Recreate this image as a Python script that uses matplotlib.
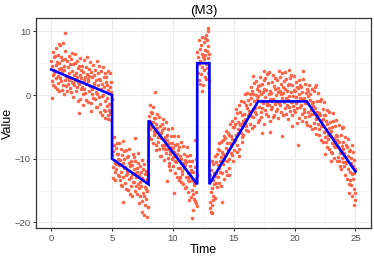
import numpy as np
import matplotlib
matplotlib.use("Agg")
import matplotlib.pyplot as plt
from matplotlib.ticker import MultipleLocator

plt.rcParams['font.family'] = ['Liberation Sans', 'DejaVu Sans']

# ---- data ----
# cloud of observations: one list of values per 0.25-wide time bin (bin centres 0.125 ... 24.875)
value_cols = [
    [5.3, 2.2, 4.6, 6.8, 3.1, 1.5, 4.0, 5.9],
    [3.5, 6.1, 1.3, 4.7, 7.4, 2.6, 5.2, 0.9],
    [6.3, 3.0, 1.9, 5.0, 0.6, 4.1, 2.7, 7.9],
    [2.2, 4.3, 6.0, 0.8, 3.7, 5.5, 1.6, 8.1],
    [3.9, 0.2, 4.5, 2.3, 5.6, 6.9, 1.4, 3.0],
    [0.7, 5.3, 2.8, 1.8, 4.4, 2.4, 6.2, 3.5],
    [4.8, 2.6, 1.1, 5.7, 0.4, 3.8, 2.0, 6.6],
    [1.9, -0.3, 4.9, 3.2, 1.6, 6.4, 2.4, 5.1],
    [3.4, 0.6, 2.8, 5.3, 1.2, -1.0, 4.2, 2.1],
    [1.8, 4.5, -0.7, 3.1, 5.8, 0.9, 2.6, 3.9],
    [4.6, 1.3, 0.1, 3.6, -1.5, 2.4, 5.5, 1.0],
    [0.3, 2.9, 4.4, -0.8, 1.7, 3.3, 5.9, 2.2],
    [2.5, -1.1, 3.0, 0.6, 4.1, 5.2, 1.4, -2.5],
    [-1.3, 3.6, 1.0, 0.2, 2.8, 4.7, -0.4, 1.9],
    [3.2, 1.5, -0.6, 4.0, -1.9, 2.3, 0.4, 5.4],
    [0.1, -1.8, 3.4, 1.6, -0.3, 4.6, 2.5, -2.7],
    [2.4, -1.4, 1.0, 3.8, -0.2, -3.1, 1.8, 4.4],
    [0.0, 2.9, -2.3, 1.3, 3.5, -0.9, -3.6, 2.0],
    [2.9, -0.4, -1.7, 1.5, -3.2, 0.8, 3.8, -2.4],
    [-1.4, 1.2, 3.4, -2.6, 0.5, 2.1, -3.9, -0.7],
    [-9.4, -13.0, -8.8, -11.3, -7.9, -6.6, -10.7, -12.1],
    [-13.4, -8.3, -10.9, -11.6, -9.2, -7.5, -12.6, -10.1],
    [-9.3, -11.0, -12.7, -7.6, -13.3, -10.2, -8.5, -14.1],
    [-12.0, -14.2, -9.4, -10.6, -12.9, -7.2, -11.5, -8.8],
    [-10.1, -13.8, -11.3, -8.6, -12.5, -14.7, -9.7, -11.9],
    [-12.4, -9.6, -14.9, -10.7, -8.4, -13.1, -11.2, -15.6],
    [-10.3, -12.9, -14.3, -11.0, -15.8, -12.4, -9.2, -13.6],
    [-13.7, -11.6, -9.8, -15.1, -12.2, -10.4, -14.2, -12.8],
    [-12.0, -15.5, -11.4, -13.9, -10.6, -9.1, -14.6, -12.5],
    [-15.9, -11.1, -13.6, -14.3, -12.0, -10.2, -16.6, -13.0],
    [-11.6, -13.3, -15.3, -10.8, -15.9, -12.4, -14.5, -17.2],
    [-14.7, -16.3, -11.9, -13.2, -15.0, -10.3, -12.6, -17.6],
    [-3.3, -6.6, -4.1, -1.5, -5.3, -2.6, -4.8, -6.9],
    [-5.0, -2.8, -7.5, -4.3, -1.9, -6.2, -3.6, -5.7],
    [-3.6, -6.0, -7.8, -4.5, -8.7, -5.2, -2.9, -6.6],
    [-7.4, -5.8, -3.5, -8.4, -6.3, -4.9, -9.5, -6.8],
    [-6.0, -9.6, -5.5, -7.9, -4.6, -3.7, -8.3, -7.1],
    [-10.2, -5.2, -7.8, -8.4, -6.6, -4.3, -9.1, -7.0],
    [-6.2, -8.4, -9.9, -5.3, -10.6, -7.5, -11.2, -8.8],
    [-9.2, -11.7, -6.4, -8.1, -10.0, -5.1, -7.6, -9.8],
    [-8.3, -11.1, -9.0, -6.5, -10.4, -12.3, -7.8, -9.6],
    [-10.5, -7.7, -12.9, -9.2, -6.5, -11.4, -8.6, -13.4],
    [-8.2, -11.5, -12.8, -9.5, -13.6, -10.1, -7.3, -11.9],
    [-12.4, -10.7, -8.0, -13.9, -11.5, -9.3, -14.6, -10.2],
    [-11.0, -14.5, -10.5, -12.9, -9.6, -8.1, -13.4, -12.2],
    [-15.2, -10.3, -12.8, -13.5, -11.1, -9.4, -16.0, -12.0],
    [-11.7, -13.4, -14.9, -10.4, -15.6, -12.1, -16.3, -13.8],
    [-14.1, -16.7, -11.3, -13.0, -15.2, -10.0, -12.5, -17.4],
    [6.8, 3.5, 6.0, 8.6, 4.8, 2.4, 7.3, 5.4],
    [5.2, 7.9, 3.3, 6.5, 9.1, 4.4, 5.9, 1.6],
    [8.4, 5.6, 3.9, 7.1, 2.9, 6.3, 9.4, 4.8],
    [4.3, 6.9, 8.7, 3.4, 5.8, 7.7, 2.2, 6.4],
    [-13.3, -16.8, -12.6, -15.2, -11.8, -10.4, -14.6, -17.3],
    [-15.8, -10.9, -13.4, -14.0, -12.2, -9.6, -16.1, -12.7],
    [-10.5, -12.3, -13.8, -9.2, -14.5, -11.0, -8.4, -12.9],
    [-11.4, -13.8, -8.6, -10.3, -12.1, -7.3, -9.7, -14.2],
    [-8.9, -12.2, -9.3, -7.1, -10.9, -13.1, -6.4, -10.2],
    [-9.5, -6.8, -11.9, -8.3, -5.6, -10.4, -7.6, -12.6],
    [-5.9, -8.7, -10.0, -6.2, -11.4, -7.5, -4.6, -9.1],
    [-8.0, -6.4, -4.1, -9.4, -6.9, -5.0, -10.3, -7.3],
    [-5.0, -8.6, -4.5, -7.0, -3.6, -2.2, -6.3, -9.0],
    [-7.8, -2.8, -5.4, -6.0, -4.2, -1.6, -8.5, -4.7],
    [-2.7, -4.5, -5.9, -1.0, -6.6, -3.2, -7.4, -4.0],
    [-4.4, -6.3, -1.1, -2.9, -4.6, 0.2, -3.8, -5.5],
    [-1.6, -4.9, -2.0, 0.3, -3.2, -5.7, -0.8, -2.9],
    [-2.5, 0.2, -4.6, -1.4, 1.3, -3.3, -0.5, -5.2],
    [0.6, -2.2, -3.5, 0.1, -4.9, -1.0, 1.9, -2.7],
    [-2.1, 0.0, 2.2, -3.0, -0.6, 0.9, -4.2, 1.4],
    [-0.1, -3.9, 0.6, -1.8, 1.5, 2.8, -2.6, 0.2],
    [-3.4, 1.7, -0.9, -2.1, 0.5, -1.3, 2.4, -4.6],
    [1.0, -0.3, -2.4, 2.7, -2.9, 0.8, -1.5, 3.3],
    [-1.2, -3.3, 1.9, 0.1, -1.6, 3.6, -0.7, -4.1],
    [0.7, -2.2, 0.3, 2.1, -1.0, -1.9, 3.1, -3.5],
    [-0.6, 1.4, -3.2, 0.9, 2.6, -1.4, -2.5, 0.0],
    [2.3, -0.9, -2.2, 1.1, -3.6, 0.4, 3.8, -1.3],
    [-1.6, 0.6, 2.9, -2.7, 0.2, 1.8, -0.5, 3.4],
    [0.3, -3.1, 1.3, -1.1, 2.2, 3.6, -2.0, 0.9],
    [-2.9, 2.5, -0.4, -1.5, 0.7, -0.8, 1.6, -3.8],
    [1.7, -0.1, -1.9, 2.6, -2.5, 0.5, -1.1, 3.2],
    [-1.1, -3.2, 1.5, -0.2, -1.7, 3.0, 0.8, -2.4],
    [0.6, -2.7, -0.3, 2.0, -1.3, -2.1, 1.2, -4.4],
    [-1.0, 1.1, -3.6, 0.2, 2.3, -1.9, -0.4, 1.5],
    [1.2, -1.6, -2.9, 0.4, -4.0, -0.7, 2.5, -2.2],
    [-2.6, -0.5, 1.7, -3.5, -1.2, 0.3, -4.3, 1.0],
    [-1.2, -4.7, -0.2, -2.6, 0.7, 1.6, -3.3, -0.8],
    [-4.8, 0.1, -2.4, -3.0, -1.2, 1.0, -5.4, -1.7],
    [-1.1, -2.9, -4.4, 0.6, -5.1, -2.0, 1.2, -3.6],
    [-3.7, -6.1, -0.9, -2.6, -4.5, 0.3, -3.0, -5.3],
    [-2.8, -6.2, -3.2, -1.0, -4.9, -7.0, -0.6, -3.9],
    [-4.9, -2.2, -7.4, -3.8, -1.1, -5.8, -3.1, -6.6],
    [-3.1, -5.5, -7.3, -4.0, -8.2, -4.6, -2.3, -6.2],
    [-6.9, -5.2, -2.6, -8.4, -5.9, -4.3, -9.0, -6.4],
    [-5.6, -9.1, -5.0, -7.5, -4.1, -2.8, -8.0, -6.7],
    [-9.9, -4.9, -7.5, -8.1, -6.3, -3.9, -10.4, -7.0],
    [-6.4, -8.2, -9.7, -4.7, -10.4, -7.3, -11.2, -8.6],
    [-9.1, -11.6, -6.3, -8.0, -9.9, -5.1, -7.4, -10.5],
    [-8.4, -11.2, -9.1, -6.6, -10.5, -12.6, -7.9, -9.8],
    [-10.7, -8.1, -13.2, -9.6, -6.9, -11.6, -8.8, -13.9],
    [-8.7, -12.0, -13.3, -9.9, -14.1, -10.6, -7.9, -12.4],
    [-13.2, -11.1, -9.0, -14.8, -12.3, -10.2, -15.4, -11.6],
]
bin_width = 0.25
# isolated observations away from the main cloud
extra_time = [0.05, 0.6, 1.1, 2.3, 4.4, 4.7, 4.9,
              5.9, 6.9, 7.2, 7.45, 7.65, 7.85, 7.95,
              8.55, 9.5, 10.1, 11.3, 11.6, 11.65, 11.8, 11.9,
              12.2, 12.4, 12.6, 12.7, 12.85, 12.9,
              13.05, 13.1, 13.2, 13.3, 13.8, 14.0, 14.6, 15.4, 16.6,
              17.3, 17.5, 17.8, 18.0, 19.0, 19.5, 19.8, 20.3, 20.7,
              21.8, 22.5, 23.0, 24.0, 24.5, 24.7, 24.9, 24.95]
extra_value = [-0.4, 8.0, 9.8, -2.8, -2.5, -3.8, -3.0,
               -16.8, -6.8, -17.0, -18.4, -18.9, -19.2, -17.5,
               0.5, -13.5, -15.3, -16.5, -19.3, -18.1, -7.0, -16.9,
               1.8, 0.6, 9.0, 2.5, 10.5, 10.1,
               -17.8, -18.3, -18.5, -16.5, -7.5, -16.8, -12.5, -9.5, 3.0,
               -6.0, 3.8, 3.5, -5.8, -6.5, 3.9, -4.8, -7.9, 3.7,
               1.5, -9.2, -10.3, -5.0, -15.3, -15.8, -17.3, -16.5]

# fitted piecewise-linear mean
line_time = [0, 5, 5, 8, 8, 12, 12, 13, 13, 17, 21, 25]
line_value = [4, 0, -10, -14, -4, -14, 5, 5, -14, -1, -1, -12]

title = "(M3)"
x_label = "Time"
y_label = "Value"

# ---- build point arrays ----
xs, ys = [], []
for i, col in enumerate(value_cols):
    start = i * bin_width
    n_per = len(col)
    for j, v in enumerate(col):
        xs.append(start + (j + 0.5) * bin_width / n_per)
        ys.append(v)
xs += extra_time
ys += extra_value

fig = plt.figure(figsize=(3.74, 2.57), dpi=100)
ax = fig.add_axes([0.0963, 0.112, 0.8947, 0.817])

ax.scatter(xs, ys, s=6.5, color="#FF6347", linewidths=0, zorder=2)
ax.plot(line_time, line_value, color="#0000FF", lw=1.9, zorder=3,
        solid_joinstyle="miter")

ax.set_xlim(-1.25, 26.25)
ax.set_ylim(-20.9, 12.05)
ax.xaxis.set_major_locator(MultipleLocator(5))
ax.xaxis.set_minor_locator(MultipleLocator(2.5))
ax.yaxis.set_minor_locator(MultipleLocator(5))
ax.set_yticks([-20, -10, 0, 10])
ax.set_yticklabels(["\u221220", "\u221210", "0", "10"])

ax.grid(which="major", color="#EBEBEB", lw=0.8, zorder=0)
ax.grid(which="minor", color="#F4F4F4", lw=0.5, zorder=0)
ax.set_axisbelow(True)
for sp in ax.spines.values():
    sp.set_color("#333333")
    sp.set_linewidth(0.9)
ax.tick_params(which="major", length=2.5, width=0.7, color="#333333",
               labelsize=6.8, labelcolor="#4D4D4D", pad=1.5)
ax.tick_params(which="minor", length=0)

ax.set_xlabel(x_label, fontsize=9, labelpad=1)
ax.set_ylabel(y_label, fontsize=9, labelpad=0.5)
ax.set_title(title, fontsize=9.5, pad=3)

fig.savefig("out.png", dpi=100)
